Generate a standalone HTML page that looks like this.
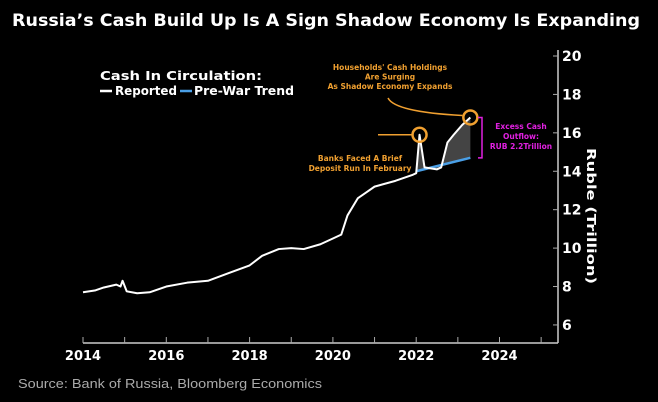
<!DOCTYPE html>
<html><head><meta charset="utf-8"><style>
body{margin:0;background:#000;width:658px;height:402px;overflow:hidden;font-family:"DejaVu Sans","Liberation Sans",sans-serif}
svg text{font-family:"DejaVu Sans","Liberation Sans",sans-serif}
</style></head><body>
<svg width="658" height="402" style="position:absolute;left:0;top:0">
<text x="12" y="26" fill="#fff" font-size="17" font-weight="bold" textLength="628" lengthAdjust="spacingAndGlyphs">Russia’s Cash Build Up Is A Sign Shadow Economy Is Expanding</text>
<text x="18" y="388" fill="#aaa" font-size="13" textLength="304" lengthAdjust="spacingAndGlyphs" style="font-family:'Liberation Sans',sans-serif">Source: Bank of Russia, Bloomberg Economics</text>
<g id="axes"></g>
<g id="marks"></g>
<text x="100" y="80" fill="#fff" font-size="12" font-weight="bold" textLength="162" lengthAdjust="spacingAndGlyphs">Cash In Circulation:</text>
<line x1="100" y1="91" x2="112" y2="91" stroke="#fff" stroke-width="2.5"/>
<text x="115" y="95" fill="#fff" font-size="12" font-weight="bold" textLength="62" lengthAdjust="spacingAndGlyphs">Reported</text>
<line x1="180" y1="91" x2="192" y2="91" stroke="#4a9fe6" stroke-width="2.5"/>
<text x="194" y="95" fill="#fff" font-size="12" font-weight="bold" textLength="100" lengthAdjust="spacingAndGlyphs">Pre-War Trend</text>
<text x="390" y="70" fill="#f0a030" font-size="7.5" font-weight="bold" text-anchor="middle"><tspan x="390">Households' Cash Holdings</tspan><tspan x="390" dy="9.5">Are Surging</tspan><tspan x="390" dy="9.5">As Shadow Economy Expands</tspan></text>
<text x="360" y="161" fill="#f0a030" font-size="7.5" font-weight="bold" text-anchor="middle"><tspan x="360">Banks Faced A Brief</tspan><tspan x="360" dy="10">Deposit Run In February</tspan></text>
<text x="521" y="129" fill="#e020e0" font-size="7.5" font-weight="bold" text-anchor="middle"><tspan x="521">Excess Cash</tspan><tspan x="521" dy="10">Outflow:</tspan><tspan x="521" dy="10">RUB 2.2Trillion</tspan></text>
<text transform="translate(587,216) rotate(90)" fill="#fff" font-size="12" font-weight="bold" text-anchor="middle" textLength="136" lengthAdjust="spacingAndGlyphs">Ruble (Trillion)</text>
</svg>
<script>
const years=[2014.0,2014.3,2014.5,2014.8,2014.9,2014.95,2015.05,2015.3,2015.6,2016.0,2016.5,2017.0,2017.5,2018.0,2018.3,2018.7,2019.0,2019.3,2019.7,2020.0,2020.2,2020.35,2020.6,2020.8,2021.0,2021.5,2021.9,2022.0,2022.08,2022.2,2022.5,2022.6,2022.75,2022.9,2023.1,2023.3];
const cash=[7.7,7.8,7.95,8.1,8.0,8.3,7.75,7.65,7.7,8.0,8.2,8.3,8.7,9.1,9.6,9.95,10.0,9.95,10.2,10.5,10.7,11.7,12.6,12.9,13.2,13.5,13.8,13.9,15.9,14.2,14.1,14.2,15.5,15.9,16.4,16.8];
const trendYears=[2022.0,2023.3];
const trendVals=[14.0,14.7];
const xTicks=[2014,2016,2018,2020,2022,2024];
const yTicks=[6,8,10,12,14,16,18,20];
const X=y=>83+(y-2014)*41.65, Y=v=>56+(20-v)*19.21;
const NS='http://www.w3.org/2000/svg';
const ax=document.getElementById('axes'), mk=document.getElementById('marks');
function el(t,a,p){const e=document.createElementNS(NS,t);for(const k in a)e.setAttribute(k,a[k]);p.appendChild(e);return e;}
const xl=el('line',{x1:83,y1:343,x2:558,y2:343,stroke:'#ccc','stroke-width':1.5},ax);


const yl=el('line',{x1:558,y1:50,x2:558,y2:343,stroke:'#ccc','stroke-width':1.5},ax);


for(let y=2014;y<=2025;y++){el('line',{x1:X(y),y1:337,x2:X(y),y2:343,stroke:'#aaa'},ax);}
xTicks.forEach(t=>{const e=el('text',{x:X(t),y:360,fill:'#fff','font-size':13,'font-weight':'bold','text-anchor':'middle'},ax);e.textContent=t;

});
yTicks.forEach(t=>{el('line',{x1:553,y1:Y(t),x2:558,y2:Y(t),stroke:'#aaa'},ax);const e=el('text',{x:562,y:Y(t)+5,fill:'#fff','font-size':14,'font-weight':'bold'},ax);e.textContent=t;

});
const tv=yr=>trendVals[0]+(yr-trendYears[0])*(trendVals[1]-trendVals[0])/(trendYears[1]-trendYears[0]);
let pts=[];years.forEach((yr,i)=>{if(yr>=trendYears[0])pts.push(X(yr)+','+Y(cash[i]));});
for(let i=years.length-1;i>=0;i--){if(years[i]>=trendYears[0])pts.push(X(years[i])+','+Y(tv(years[i])));}
const sh=el('polygon',{points:pts.join(' '),fill:'#555',opacity:0.8},mk);


const tl=el('polyline',{points:trendYears.map((y,i)=>X(y)+','+Y(trendVals[i])).join(' '),fill:'none',stroke:'#4a9fe6','stroke-width':2.5},mk);


const rl=el('polyline',{points:years.map((y,i)=>X(y)+','+Y(cash[i])).join(' '),fill:'none',stroke:'#fff','stroke-width':2,'stroke-linejoin':'round'},mk);


const c1=el('circle',{cx:X(2022.08),cy:Y(15.9),r:7,fill:'none',stroke:'#f0a030','stroke-width':2.5},mk);


el('line',{x1:378,y1:Y(15.9),x2:X(2022.08)-7,y2:Y(15.9),stroke:'#f0a030','stroke-width':1.5},mk);
const c2=el('circle',{cx:X(2023.3),cy:Y(16.8),r:7,fill:'none',stroke:'#f0a030','stroke-width':2.5},mk);


el('path',{d:`M388,98 Q395,112 ${X(2023.3)-8},${Y(16.8)-2}`,fill:'none',stroke:'#f0a030','stroke-width':1.5},mk);
const br=el('path',{d:`M478,${Y(16.8)} H482 V${Y(14.7)} H478`,fill:'none',stroke:'#e020e0','stroke-width':1.5},mk);


</script>
</body></html>
